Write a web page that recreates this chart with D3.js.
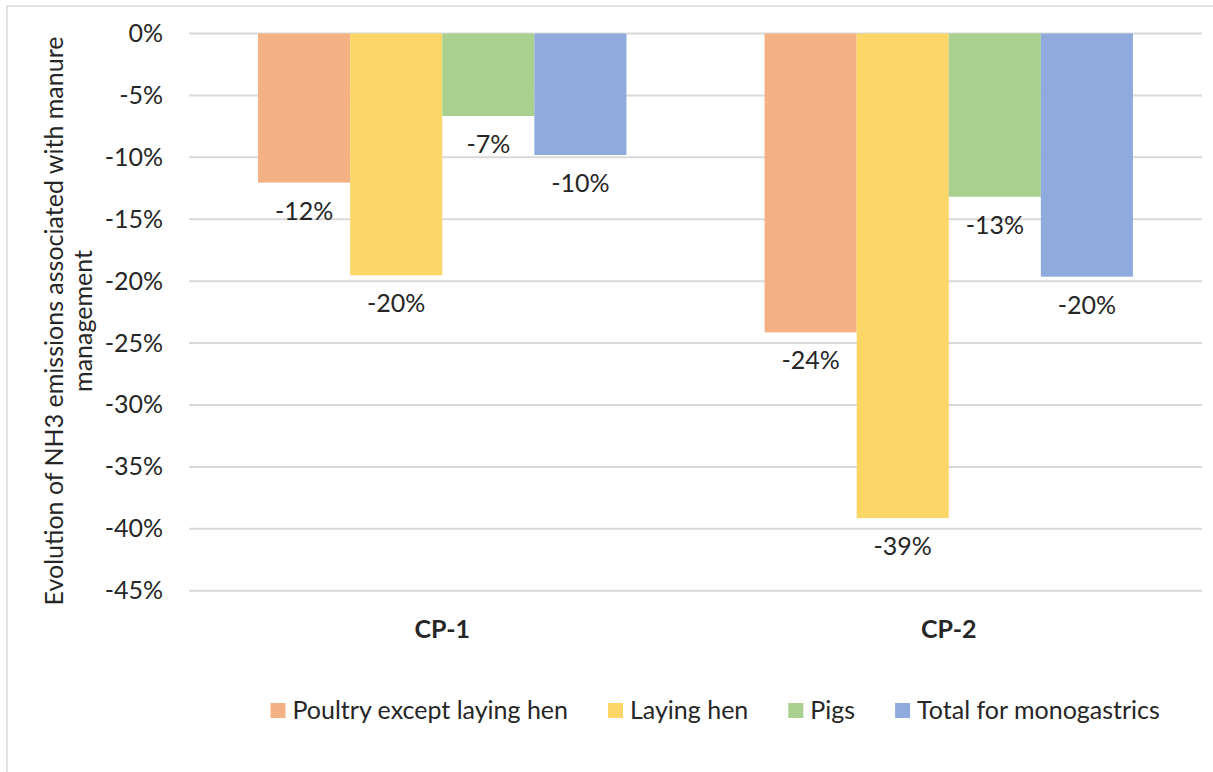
<!DOCTYPE html>
<html>
<head>
<meta charset="utf-8">
<script src="https://cdn.jsdelivr.net/npm/d3@7"></script>
<style>
  html, body { margin: 0; padding: 0; background: #fff; }
  svg { display: block; }
  text { font-family: Lato, "Open Sans", "Noto Sans", sans-serif; fill: #262626; }
</style>
</head>
<body>
<svg id="chart" width="1213" height="772"></svg>
<script>
// Scenario groups on the x axis
const categories = ["CP-1", "CP-2"];
// Livestock series shown in each group
const seriesNames = ["Poultry except laying hen", "Laying hen", "Pigs", "Total for monogastrics"];
const seriesColors = ["#F4B183", "#FCD666", "#A9D08E", "#8FAADC"];
// Change in NH3 emissions from manure management, per series, for CP-1 and CP-2
const poultryValues = [-0.1204, -0.2414];
const layingHenValues = [-0.1953, -0.3914];
const pigsValues = [-0.0666, -0.1318];
const totalValues = [-0.0981, -0.1964];
// Y axis ticks
const yTicks = [0, -0.05, -0.10, -0.15, -0.20, -0.25, -0.30, -0.35, -0.40, -0.45];

const seriesValues = [poultryValues, layingHenValues, pigsValues, totalValues];
const rows = [];
categories.forEach((c, ci) => {
  seriesNames.forEach((s, si) => rows.push({ category: c, series: s, si, value: seriesValues[si][ci] }));
});

const svg = d3.select("#chart");
const fontSize = 25;
const fontFamily = "Lato, 'Open Sans', sans-serif";

// Percent format with a plain hyphen for negatives
const locale = d3.formatLocale({ decimal: ".", thousands: ",", grouping: [3], currency: ["", ""], minus: "-" });
const pct = locale.format(".0%");
const tickFmt = v => (Math.abs(v) < 1e-9 ? "0%" : pct(v));

// Chart area frame
svg.append("rect")
  .attr("x", 7).attr("y", 6)
  .attr("width", 1400).attr("height", 1000)
  .attr("fill", "#fff").attr("stroke", "#d9d9d9").attr("stroke-width", 1.5);

const plot = { left: 189, right: 1202, top: 33.5, bottom: 590.7 };

const y = d3.scaleLinear().domain([-0.45, 0]).range([plot.bottom, plot.top]);
const x0 = d3.scaleBand().domain(categories).range([plot.left, plot.right]).paddingInner(0).paddingOuter(0);
const x1 = d3.scaleBand().domain(seriesNames).range([0, x0.bandwidth()]).paddingInner(0).paddingOuter(0.75);
const color = d3.scaleOrdinal().domain(seriesNames).range(seriesColors);

// Horizontal gridlines
svg.append("g")
  .selectAll("line")
  .data(yTicks)
  .join("line")
  .attr("x1", plot.left).attr("x2", plot.right)
  .attr("y1", d => y(d)).attr("y2", d => y(d))
  .attr("stroke", "#d9d9d9").attr("stroke-width", 2);

// Y axis labels
const yAxis = svg.append("g")
  .attr("transform", `translate(${plot.left},0)`)
  .call(d3.axisLeft(y).tickValues(yTicks).tickFormat(tickFmt).tickSize(0).tickPadding(26));
yAxis.select(".domain").remove();
yAxis.selectAll("text")
  .attr("font-size", fontSize)
  .attr("font-family", fontFamily)
  .attr("fill", "#262626");

// Bars
svg.append("g")
  .selectAll("rect")
  .data(rows)
  .join("rect")
  .attr("x", d => x0(d.category) + x1(d.series))
  .attr("width", x1.bandwidth())
  .attr("y", y(0))
  .attr("height", d => y(d.value) - y(0))
  .attr("fill", d => color(d.series));

// Value labels under each bar end
svg.append("g")
  .selectAll("text")
  .data(rows)
  .join("text")
  .attr("x", d => x0(d.category) + x1(d.series) + x1.bandwidth() / 2)
  .attr("y", d => y(d.value) + 37)
  .attr("text-anchor", "middle")
  .attr("font-size", fontSize)
  .text(d => pct(d.value));

// Category labels
const xAxis = svg.append("g")
  .attr("transform", `translate(0,${plot.bottom})`)
  .call(d3.axisBottom(x0).tickSize(0).tickPadding(30));
xAxis.select(".domain").remove();
xAxis.selectAll("text")
  .attr("font-size", fontSize)
  .attr("font-weight", "bold")
  .attr("font-family", fontFamily)
  .attr("fill", "#262626");

// Y axis title, two centred lines
const titleLines = ["Evolution of NH3 emissions associated with manure", "management"];
const titleCy = 321;
svg.append("g")
  .selectAll("text")
  .data(titleLines)
  .join("text")
  .attr("transform", (d, i) => `translate(${63 + i * 29},${titleCy}) rotate(-90)`)
  .attr("text-anchor", "middle")
  .attr("font-size", fontSize)
  .text(d => d);

// Legend, items laid out left to right
const legend = svg.append("g");
const items = legend.selectAll("g")
  .data(seriesNames)
  .join("g");
items.append("rect")
  .attr("width", 15).attr("height", 15)
  .attr("y", 703)
  .attr("fill", d => color(d));
items.append("text")
  .attr("x", 22)
  .attr("y", 719)
  .attr("font-size", fontSize)
  .text(d => d);
const widths = [];
items.each(function () { widths.push(22 + d3.select(this).select("text").node().getComputedTextLength()); });
const gap = 40;
let cx = 270.5;
items.attr("transform", (d, i) => {
  const t = `translate(${cx},0)`;
  cx += widths[i] + gap;
  return t;
});
</script>
</body>
</html>
